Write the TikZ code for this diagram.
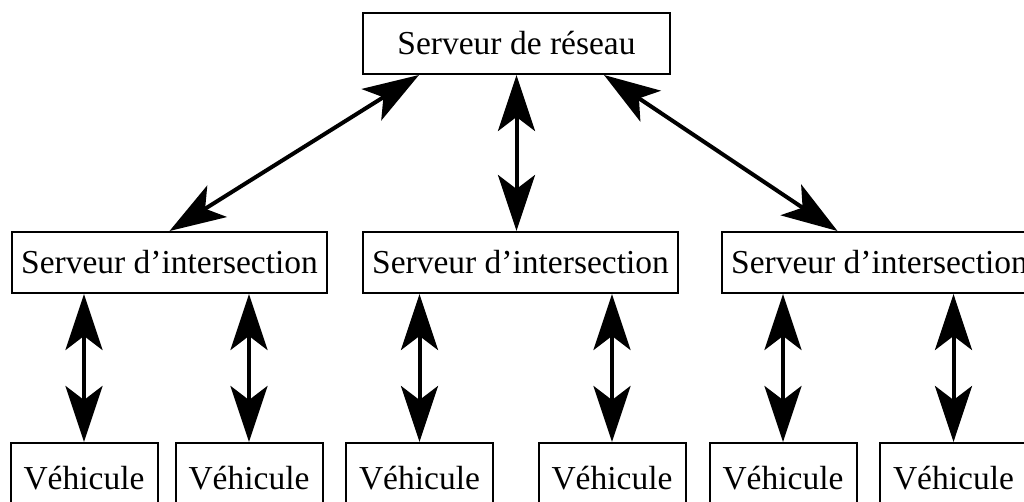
\documentclass[tikz,border=0pt]{standalone}
\usepackage{fontspec}
\setmainfont{Liberation Serif}
\usetikzlibrary{arrows.meta}
\tikzset{
  boxNode/.style={draw=black, line width=2pt, inner sep=0pt, font=\fontsize{33.5}{40}\selectfont},
  serverBox/.style={boxNode, minimum width=315pt, minimum height=61pt},
  vehicleBox/.style={boxNode, minimum width=147pt, minimum height=70pt},
  linkArrow/.style={line width=4pt, {Stealth[length=56pt, width=37pt, inset=14pt]}-{Stealth[length=56pt, width=37pt, inset=14pt]}}
}

\begin{document}
\begin{tikzpicture}[x=1pt, y=-1pt]
  \useasboundingbox (0,0) rectangle (1024,502);
  \clip (0,0) rectangle (1024,502);
  \fill[white] (0,0) rectangle (1024,502);

  \node[boxNode, minimum width=307pt, minimum height=61pt] (net) at (516.5,43.5) {Serveur de réseau};

  \node[serverBox] (isecA) at (169.5,262.5) {Serveur d’intersection};
  \node[serverBox] (isecB) at (520.5,262.5) {Serveur d’intersection};
  \node[serverBox] (isecC) at (879.5,262.5) {Serveur d’intersection};

  \node[vehicleBox] (vehA) at (84,478)    {Véhicule};
  \node[vehicleBox] (vehB) at (249,478)   {Véhicule};
  \node[vehicleBox] (vehC) at (419.5,478) {Véhicule};
  \node[vehicleBox] (vehD) at (612,478)   {Véhicule};
  \node[vehicleBox] (vehE) at (783,478)   {Véhicule};
  \node[vehicleBox] (vehF) at (953.5,478) {Véhicule};

  \draw[linkArrow] ([xshift=57pt]net.south west) -- (isecA.north);
  \draw[linkArrow] (net.south) -- (net.south |- isecB.north);
  \draw[linkArrow] ([xshift=-67pt]net.south east) -- ([xshift=-42pt]isecC.north);

  \draw[linkArrow] (vehA.north |- isecA.south) -- (vehA.north);
  \draw[linkArrow] (vehB.north |- isecA.south) -- (vehB.north);
  \draw[linkArrow] (vehC.north |- isecB.south) -- (vehC.north);
  \draw[linkArrow] (vehD.north |- isecB.south) -- (vehD.north);
  \draw[linkArrow] (vehE.north |- isecC.south) -- (vehE.north);
  \draw[linkArrow] (vehF.north |- isecC.south) -- (vehF.north);
\end{tikzpicture}
\end{document}
